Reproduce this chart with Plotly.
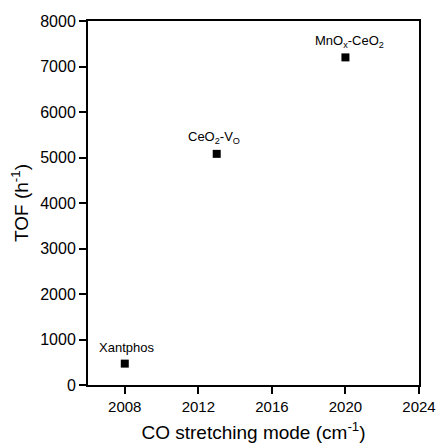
import plotly.graph_objects as go

wavenumber = [2008, 2013, 2020]
tof = [470, 5080, 7200]
labels = ["Xantphos", "CeO<sub>2</sub>-V<sub>O</sub>", "MnO<sub>x</sub>-CeO<sub>2</sub>"]
label_xshift = [2, -3, 4]

x_ticks = [2008, 2012, 2016, 2020, 2024]
y_ticks = [0, 1000, 2000, 3000, 4000, 5000, 6000, 7000, 8000]

fig = go.Figure()
fig.add_trace(go.Scatter(
    x=wavenumber, y=tof, mode="markers",
    marker=dict(symbol="square", size=8, color="black"),
    showlegend=False, cliponaxis=False,
))
for xv, yv, lab, dx in zip(wavenumber, tof, labels, label_xshift):
    fig.add_annotation(x=xv, y=yv, text=lab, showarrow=False,
                       yshift=16, xshift=dx, font=dict(size=13, color="black"))

axis_common = dict(
    showline=True, linecolor="black", linewidth=2, mirror=True,
    ticks="outside", ticklen=7, tickwidth=1.5, tickcolor="black",
    showgrid=False, zeroline=False, automargin=False,
    ticklabeloverflow="allow",
)
fig.update_xaxes(range=[2006, 2024], tickvals=x_ticks,
                 tickfont=dict(size=15, color="black"),
                 title=dict(text="CO stretching mode (cm<sup>-1</sup>)", font=dict(size=19, color="black"), standoff=26),
                 **axis_common)
fig.update_yaxes(range=[0, 8000], tickvals=y_ticks, ticklabelstandoff=0,
                 tickfont=dict(size=16, color="black"),
                 title=dict(text="TOF (h<sup>-1</sup>)", font=dict(size=19, color="black"), standoff=7),
                 **axis_common)
fig.update_layout(
    width=436, height=443,
    margin=dict(l=88, r=17, t=21, b=58),
    paper_bgcolor="white", plot_bgcolor="white",
    font=dict(family="Liberation Sans, Arial, sans-serif", color="black"),
)
# remove the default 8px page margin so the figure fills the window exactly
fig.write_html("out.html",
               config={"displayModeBar": False},
               post_script="document.body.style.margin='0';document.body.style.overflow='hidden';")
